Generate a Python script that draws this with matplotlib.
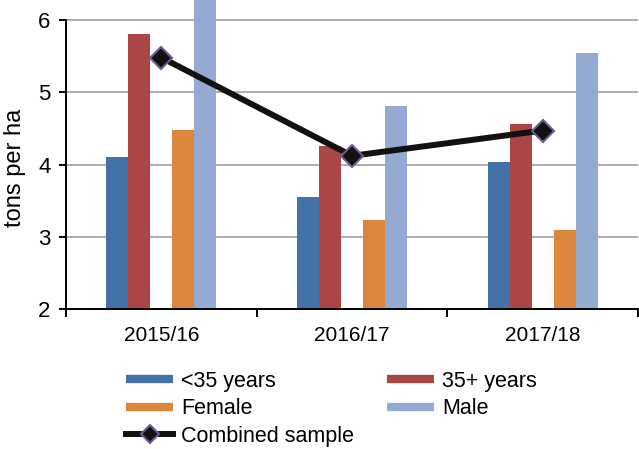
import matplotlib
matplotlib.use("Agg")
import matplotlib.pyplot as plt
from matplotlib.lines import Line2D
import numpy as np

plt.rcParams['font.family'] = ['Liberation Sans', 'DejaVu Sans']

years = ["2015/16", "2016/17", "2017/18"]
under35 = [4.10, 3.55, 4.03]
over35 = [5.81, 4.25, 4.56]
female = [4.48, 3.23, 3.10]
male = [6.40, 4.81, 5.55]
combined = [5.48, 4.12, 4.47]

colors = {"under35": "#4472A8", "over35": "#AA4744", "female": "#DC853D", "male": "#94AAD3"}
line_c = "#111111"
edge_c = "#6E5A8E"

fig = plt.figure(figsize=(6.39, 4.49), dpi=100)
ax = fig.add_axes([0.1033, 0.3118, 0.8951, 0.6882])

x = np.arange(len(years))
w = 0.1154
series = [(under35, colors["under35"], -2), (over35, colors["over35"], -1),
          (female, colors["female"], 1), (male, colors["male"], 2)]
for vals, c, off in series:
    ax.bar(x + off * w, np.array(vals) - 2, bottom=2, width=w, color=c, zorder=2)

ax.plot(x, combined, color=line_c, lw=4.3, marker="D", markersize=11,
        markerfacecolor=line_c, markeredgecolor=edge_c, markeredgewidth=1.5,
        zorder=3, solid_capstyle="butt")

ax.set_xlim(-0.5, 2.5)
ax.set_ylim(2, 6.277)
ax.set_yticks([2, 3, 4, 5, 6])
ax.yaxis.grid(True, color="#A0A0A0", lw=1.2, zorder=0)
ax.set_axisbelow(True)
for s in ["top", "right"]:
    ax.spines[s].set_visible(False)
ax.spines["left"].set_bounds(2, 6)
ax.spines["left"].set_linewidth(1.4)
ax.spines["bottom"].set_linewidth(1.4)
ax.set_xticks(x)
ax.set_xticklabels(years, fontsize=15)
ax.set_xticks([-0.5, 0.5, 1.5, 2.5], minor=True)
ax.tick_params(axis="x", which="major", length=0, pad=12)
ax.tick_params(axis="x", which="minor", length=6, width=1.4, direction="out")
ax.tick_params(axis="y", length=5, width=1.4, labelsize=16, pad=6)
ax.set_ylabel("tons per ha", fontsize=17)
ax.yaxis.set_label_coords(-0.07, 0.458)

def bar_handle(c):
    return Line2D([], [], color=c, lw=6, solid_capstyle="butt")

h1 = [bar_handle(colors["under35"]), bar_handle(colors["female"]),
      Line2D([], [], color=line_c, lw=4.3, marker="D", markersize=9,
             markerfacecolor=line_c, markeredgecolor=edge_c, markeredgewidth=1.5)]
l1 = ["<35 years", "Female", "Combined sample"]
h2 = [bar_handle(colors["over35"]), bar_handle(colors["male"])]
l2 = ["35+ years", "Male"]

kw = dict(loc="upper left", frameon=False, fontsize=15.5, handlelength=2.2,
          handletextpad=0.35, labelspacing=0.3, borderaxespad=0, borderpad=0)
leg1 = fig.legend(h1, l1, bbox_to_anchor=(126 / 639, 1 - 371 / 449), **kw)
leg2 = fig.legend(h2, l2, bbox_to_anchor=(387 / 639, 1 - 371 / 449), **kw)

fig.savefig("out.png", dpi=100)
